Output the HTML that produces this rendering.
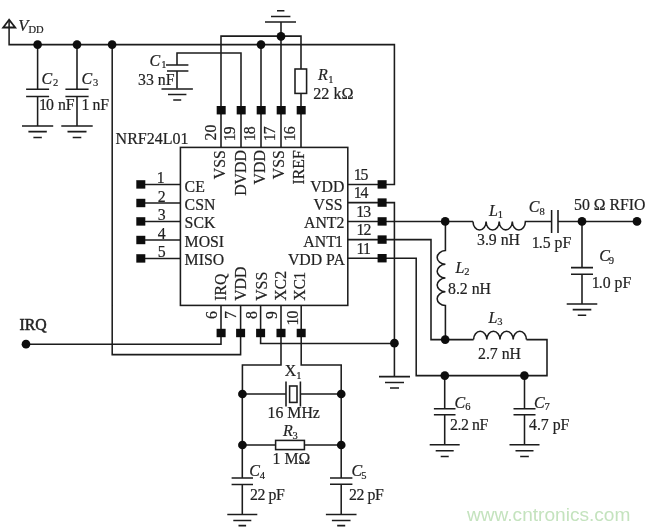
<!DOCTYPE html>
<html><head><meta charset="utf-8">
<style>
html,body{margin:0;padding:0;background:#fff;}
svg{display:block;}
text{font-family:"Liberation Serif",serif;fill:#222;stroke:#222;stroke-width:0.2px;}
.t{font-size:15.8px;}
.i{font-style:italic;font-size:16px;}
.s{font-size:10.5px;}
.n{letter-spacing:-0.1px;}
.w{stroke:#1c1c1c;stroke-width:1.55;fill:none;stroke-linecap:butt;stroke-linejoin:miter;}
.d{fill:#0a0a0a;}
</style></head><body>
<svg width="650" height="530" viewBox="0 0 650 530">
<defs><filter id="b" x="-2%" y="-2%" width="104%" height="104%"><feGaussianBlur stdDeviation="0.4"/></filter></defs>
<rect width="650" height="530" fill="#ffffff"/>
<g filter="url(#b)">
<g class="w">
<path d="M9.1 19.8 L3.2 27.5 L15.2 27.5 Z" style="stroke-width:1.8"/>
<path d="M9.1 20.5 V44.6 H394.4 V184.4 H348"/>
<path d="M37.6 44.6 V89.2 M26.1 89.2 H49.1 M26.1 96.4 H49.1 M37.6 96.4 V126"/>
<path d="M22.0 126.0 H53.2 M28.4 131.6 H46.8 M33.4 137.4 H41.8"/>
<path d="M77 44.6 V89.2 M65.4 89.2 H88.6 M65.4 96.4 H88.6 M77 96.4 V126"/>
<path d="M61.3 126.0 H92.7 M67.5 131.6 H86.5 M72.7 137.4 H81.3"/>
<path d="M112.2 44.6 V354.6 H240.6 V305.5"/>
<path d="M241 147.4 V53 H177 V65 M166 65 H188.4 M167 71 H188.4 M177 71 V88.6"/>
<path d="M161.5 88.9 H192.9 M168.0 94.4 H186.4 M173.2 99.9 H181.2"/>
<path d="M277 10.8 H284.4 M271 16.4 H290.4 M265 22 H296 M281 22 V147.4 M221 147.4 V36.1 H301 V69 M301 93.4 V147.4"/>
<rect x="295" y="69" width="11.6" height="24.4"/>
<path d="M261 44.6 V147.4"/>
<rect x="180.4" y="147.4" width="167.4" height="158"/>
<path d="M141 184.4 H180.4"/>
<path d="M141 203 H180.4"/>
<path d="M141 221.4 H180.4"/>
<path d="M141 240 H180.4"/>
<path d="M141 258.4 H180.4"/>
<path d="M348 202.6 H394.4 V376.6"/>
<path d="M379.0 376.6 H410.0 M385.0 382.4 H404.0 M390.0 388.0 H399.0"/>
<path d="M348 221.4 H473"/>
<path d="M473 221.4 a6.55 8.5 0 0 0 13.1 0 a6.55 8.5 0 0 0 13.1 0 a6.55 8.5 0 0 0 13.1 0 a6.55 8.5 0 0 0 13.1 0 H551.6 M558 221.4 H637 M551.6 210 V233 M558 210 V233"/>
<path d="M348 239.6 H431 V339.6 H473.6"/>
<path d="M348 258.2 H416.2 V375.6 H547 V339.6 H526.4"/>
<path d="M445.4 221.4 V250.6 a9 6.9 0 0 0 0 13.75 a9 6.9 0 0 0 0 13.75 a9 6.9 0 0 0 0 13.75 a9 6.9 0 0 0 0 13.75 V339.6"/>
<path d="M473.6 339.6 a6.6 8.3 0 0 1 13.2 0 a6.6 8.3 0 0 1 13.2 0 a6.6 8.3 0 0 1 13.2 0 a6.6 8.3 0 0 1 13.2 0"/>
<path d="M582 221.4 V267.6 M571 267.6 H593 M571 274.2 H593 M582 274.2 V304"/>
<path d="M566.7 304.0 H597.3 M572.7 309.6 H591.3 M577.8 315.2 H586.2"/>
<path d="M444.7 375.6 V408.8 M433.9 408.8 H455.5 M433.9 414.8 H455.5 M444.7 414.8 V444.8"/>
<path d="M429.7 444.8 H459.7 M435.7 450.8 H453.7 M440.7 456.4 H448.7"/>
<path d="M524.5 375.6 V408.8 M513.5 408.8 H535.5 M513.5 414.8 H535.5 M524.5 414.8 V444.8"/>
<path d="M509.5 444.8 H539.5 M515.5 450.8 H533.5 M520.2 456.4 H528.8"/>
<path d="M26 344.2 H221 V305.5"/>
<path d="M260.6 305.5 V343.4 H394.4"/>
<path d="M281 305.5 V364.9 H242.4 V394"/>
<path d="M242.3 394 V478 M231.60000000000002 478 H253.0 M231.60000000000002 484.4 H253.0 M242.3 484.4 V514.4"/>
<path d="M227.3 514.4 H257.3 M233.3 520.4 H251.3 M238.5 525.6 H246.1"/>
<path d="M301.2 305.5 V364.9 H341.2 V394"/>
<path d="M341.2 394 V478 M330.0 478 H352.4 M330.0 484.2 H352.4 M341.2 484.2 V514.4"/>
<path d="M325.9 514.4 H356.5 M331.9 520.4 H350.5 M337.2 525.6 H345.2"/>
<path d="M242.4 394 H286 M300.4 394 H341.2 M286 381.6 V406.4 M300.4 381.6 V406.4"/>
<rect x="289.6" y="386" width="7.4" height="16.4"/>
<path d="M242.4 445 H275.6 M304.4 445 H341.2"/>
<rect x="275.6" y="440.4" width="28.8" height="9.2"/>
</g>
<g class="d"><circle cx="37.6" cy="44.6" r="4.35"/><circle cx="77" cy="44.6" r="4.35"/><circle cx="112.1" cy="44.6" r="4.35"/><circle cx="261" cy="44.6" r="4.35"/><circle cx="281" cy="36.4" r="4.35"/><circle cx="445.2" cy="221.4" r="4.35"/><circle cx="582" cy="221.4" r="4.35"/><circle cx="637" cy="221.4" r="4.35"/><circle cx="445.2" cy="339.6" r="4.35"/><circle cx="444.8" cy="375.6" r="4.35"/><circle cx="524.4" cy="375.6" r="4.35"/><circle cx="394.4" cy="343.2" r="4.35"/><circle cx="26" cy="344.2" r="4.35"/><circle cx="242.4" cy="394" r="4.35"/><circle cx="341.2" cy="394" r="4.35"/><circle cx="242.4" cy="445" r="4.35"/><circle cx="341.2" cy="445" r="4.35"/></g>
<g class="d">
<rect x="216.70" y="106.00" width="9" height="8.4"/>
<rect x="236.70" y="106.00" width="9" height="8.4"/>
<rect x="256.70" y="106.00" width="9" height="8.4"/>
<rect x="276.70" y="106.00" width="9" height="8.4"/>
<rect x="296.70" y="106.00" width="9" height="8.4"/>
<rect x="136.30" y="180.20" width="9" height="8.4"/>
<rect x="136.30" y="198.80" width="9" height="8.4"/>
<rect x="136.30" y="217.20" width="9" height="8.4"/>
<rect x="136.30" y="235.80" width="9" height="8.4"/>
<rect x="136.30" y="254.20" width="9" height="8.4"/>
<rect x="377.60" y="180.20" width="9" height="8.4"/>
<rect x="377.60" y="198.40" width="9" height="8.4"/>
<rect x="377.60" y="217.20" width="9" height="8.4"/>
<rect x="377.60" y="235.40" width="9" height="8.4"/>
<rect x="377.60" y="254.00" width="9" height="8.4"/>
<rect x="216.60" y="328.80" width="9" height="8.4"/>
<rect x="236.10" y="328.80" width="9" height="8.4"/>
<rect x="256.10" y="328.80" width="9" height="8.4"/>
<rect x="276.50" y="328.80" width="9" height="8.4"/>
<rect x="296.70" y="328.80" width="9" height="8.4"/>
</g>
<g>
<text class="i" x="18.3" y="30.5" style="font-size:16.5px">V</text><text class="s" x="28.5" y="32.6">DD</text>
<text class="i" x="41.4" y="83.8">C</text><text class="s" x="53" y="86.3">2</text>
<text class="i" x="81.6" y="83.8">C</text><text class="s" x="93" y="86.3">3</text>
<text class="t" x="40" y="110.4"><tspan dx="-0.90">1</tspan><tspan dx="-0.90">0</tspan> nF</text>
<text class="t" x="82.4" y="110.4"><tspan dx="-0.90">1</tspan><tspan dx="-0.90"> </tspan>nF</text>
<text class="i" x="149.6" y="66">C</text><text class="s" x="161.2" y="68.1">1</text>
<text class="t" x="138" y="84.9">33 nF</text>
<text class="i" x="318" y="80">R</text><text class="s" x="328.3" y="82.9">1</text>
<text class="t" x="313.2" y="99" style="font-size:16.2px">22 kΩ</text>
<text class="t" x="115.6" y="144" style="font-size:16px">NRF24L01</text>
<text class="t" x="184.6" y="191.6">CE</text>
<text class="t" x="184.6" y="209.8">CSN</text>
<text class="t" x="184.6" y="228.2">SCK</text>
<text class="t" x="184.6" y="246.6">MOSI</text>
<text class="t" x="184.6" y="265">MISO</text>
<text class="t" x="161.6" y="183.0" text-anchor="middle"><tspan dx="-0.90">1</tspan></text>
<text class="t" x="161.6" y="201.6" text-anchor="middle">2</text>
<text class="t" x="161.6" y="220.0" text-anchor="middle">3</text>
<text class="t" x="161.6" y="238.6" text-anchor="middle">4</text>
<text class="t" x="161.6" y="257.0" text-anchor="middle">5</text>
<text class="t" x="344.4" y="192" text-anchor="end">VDD</text>
<text class="t" x="342.6" y="210.2" text-anchor="end">VSS</text>
<text class="t" x="344.4" y="228.4" text-anchor="end">ANT2</text>
<text class="t" x="342.8" y="246.6" text-anchor="end">ANT<tspan dx="-0.90">1</tspan></text>
<text class="t" x="344.8" y="265" text-anchor="end">VDD PA</text>
<text class="t n" x="354.6" y="179.8"><tspan dx="-0.90">1</tspan><tspan dx="-0.90">5</tspan></text>
<text class="t n" x="354.6" y="198.2"><tspan dx="-0.90">1</tspan><tspan dx="-0.90">4</tspan></text>
<text class="t n" x="357.2" y="216.6"><tspan dx="-0.90">1</tspan><tspan dx="-0.90">3</tspan></text>
<text class="t n" x="357.4" y="235"><tspan dx="-0.90">1</tspan><tspan dx="-0.90">2</tspan></text>
<text class="t" x="356.6" y="253.6" style="letter-spacing:-0.9px">11</text>
<text class="t" transform="translate(215.6 140.4) rotate(-90)">20</text>
<text class="t" transform="translate(235 140.4) rotate(-90)"><tspan dx="-0.90">1</tspan><tspan dx="-0.90">9</tspan></text>
<text class="t" transform="translate(255 140.4) rotate(-90)"><tspan dx="-0.90">1</tspan><tspan dx="-0.90">8</tspan></text>
<text class="t" transform="translate(275 140.4) rotate(-90)"><tspan dx="-0.90">1</tspan><tspan dx="-0.90">7</tspan></text>
<text class="t" transform="translate(295 140.4) rotate(-90)"><tspan dx="-0.90">1</tspan><tspan dx="-0.90">6</tspan></text>
<text class="t" transform="translate(224.5 150.2) rotate(-90)" text-anchor="end">VSS</text>
<text class="t" transform="translate(246.4 150.2) rotate(-90)" text-anchor="end">DVDD</text>
<text class="t" transform="translate(264.9 150.2) rotate(-90)" text-anchor="end">VDD</text>
<text class="t" transform="translate(283.5 150.2) rotate(-90)" text-anchor="end">VSS</text>
<text class="t" transform="translate(303.7 150.2) rotate(-90)" text-anchor="end">IREF</text>
<text class="t" transform="translate(226 300.8) rotate(-90)">IRQ</text>
<text class="t" transform="translate(246 300.8) rotate(-90)">VDD</text>
<text class="t" transform="translate(266.6 300.8) rotate(-90)">VSS</text>
<text class="t" transform="translate(286.4 300.8) rotate(-90)">XC2</text>
<text class="t" transform="translate(305 300.8) rotate(-90)">XC<tspan dx="-0.90">1</tspan></text>
<text class="t" transform="translate(217 311.2) rotate(-90)" text-anchor="end">6</text>
<text class="t" transform="translate(236.4 311.2) rotate(-90)" text-anchor="end">7</text>
<text class="t" transform="translate(257 311.2) rotate(-90)" text-anchor="end">8</text>
<text class="t" transform="translate(277 311.2) rotate(-90)" text-anchor="end">9</text>
<text class="t" transform="translate(298 309.8) rotate(-90)" text-anchor="end"><tspan dx="-0.90">1</tspan><tspan dx="-0.90">0</tspan></text>
<text class="t" x="19.4" y="330" style="stroke-width:0.5px">IRQ</text>
<text class="i" x="489" y="216.4">L</text><text class="s" x="497.8" y="218.3">1</text>
<text class="t" x="477" y="245">3.9 nH</text>
<text class="i" x="528.8" y="212">C</text><text class="s" x="539.4" y="214.9">8</text>
<text class="t" x="532.6" y="248"><tspan dx="-0.90">1</tspan><tspan dx="-0.90">.</tspan>5 pF</text>
<text class="t" x="574" y="209.6">50 Ω RFIO</text>
<text class="i" x="599.2" y="261">C</text><text class="s" x="608.8" y="263.5">9</text>
<text class="t" x="592.6" y="288.4"><tspan dx="-0.90">1</tspan><tspan dx="-0.90">.</tspan>0 pF</text>
<text class="i" x="455.4" y="273">L</text><text class="s" x="464.2" y="274.9">2</text>
<text class="t" x="448" y="293.6">8.2 nH</text>
<text class="i" x="488.6" y="323">L</text><text class="s" x="497.2" y="324.7">3</text>
<text class="t" x="478" y="358.6">2.7 nH</text>
<text class="i" x="454.6" y="407.6">C</text><text class="s" x="465.2" y="410.1">6</text>
<text class="t" x="450" y="430.4" style="letter-spacing:-0.4px">2.2 nF</text>
<text class="i" x="534" y="407.6">C</text><text class="s" x="544.6" y="410.1">7</text>
<text class="t" x="529" y="430.4">4.7 pF</text>
<text class="t" x="284.8" y="376.4">X</text><text class="s" x="296.2" y="378.5">1</text>
<text class="t" x="267.6" y="418" style="font-size:15.8px">16 MHz</text>
<text class="i" x="283" y="436">R</text><text class="s" x="292.6" y="438.9">3</text>
<text class="t" x="272.6" y="463.6">1 MΩ</text>
<text class="i" x="249.2" y="476.4">C</text><text class="s" x="259.8" y="478.9">4</text>
<text class="t" x="250" y="499.6" style="letter-spacing:-0.4px">22 pF</text>
<text class="i" x="351.6" y="476.4">C</text><text class="s" x="361.2" y="478.9">5</text>
<text class="t" x="349" y="499.6" style="letter-spacing:-0.4px">22 pF</text>
</g>
<text x="467" y="521" style='font-family:"Liberation Sans",sans-serif;font-size:19.1px;fill:#c4e3be;stroke:none'>www.cntronics.com</text>
</g>
</svg>
</body></html>
